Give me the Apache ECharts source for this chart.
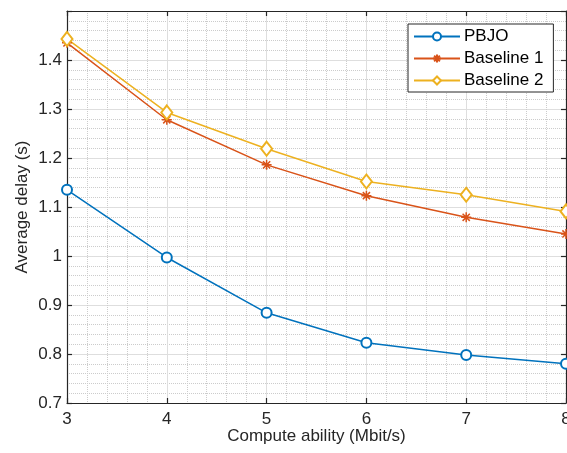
<!DOCTYPE html>
<html>
<head>
<meta charset="utf-8">
<script src="https://cdn.jsdelivr.net/npm/echarts@6/dist/echarts.min.js"></script>
<style>
  html, body { margin: 0; padding: 0; background: #fff; }
  #chart { width: 567px; height: 453px; }
</style>
</head>
<body>
<div id="chart"></div>
<script>
// data
var xValues = [3, 4, 5, 6, 7, 8];
var pbjo = [1.135, 0.997, 0.884, 0.823, 0.798, 0.780];
var baseline1 = [1.435, 1.278, 1.186, 1.123, 1.079, 1.045];
var baseline2 = [1.443, 1.293, 1.219, 1.152, 1.125, 1.091];
var seriesNames = ['PBJO', 'Baseline 1', 'Baseline 2'];

function pairs(ys) {
  return xValues.map(function (x, i) { return [x, ys[i]]; });
}

var font = 'Liberation Sans, Arial, Helvetica, sans-serif';
var axisColor = '#262626';
// asterisk marker like matlab '*'
var star = 'path://M0,-5L0,5M-5,0L5,0M-3.6,-3.6L3.6,3.6M-3.6,3.6L3.6,-3.6';

var chart = echarts.init(document.getElementById('chart'));

var commonAxis = {
  axisLine: { show: true, lineStyle: { color: axisColor, width: 1.2 } },
  axisTick: { show: true, inside: true, length: 5, lineStyle: { color: axisColor, width: 1.2 } },
  minorTick: { show: true, splitNumber: 5, length: 0 }
};

chart.setOption({
  animation: false,
  backgroundColor: '#fff',
  grid: { left: 67, right: 1, top: 11, bottom: 50, containLabel: false, outerBoundsMode: 'none' },
  legend: {
    data: seriesNames,
    orient: 'vertical',
    left: 408, top: 24,
    padding: [4, 10, 3, 5],
    itemWidth: 46, itemHeight: 10, itemGap: 5,
    backgroundColor: '#fff',
    borderColor: '#262626', borderWidth: 1,
    textStyle: { fontFamily: font, fontSize: 17, color: '#000', padding: [0, 0, 0, -1] }
  },
  xAxis: [
    Object.assign({}, commonAxis, {
      type: 'value', min: 3, max: 8, interval: 1,
      name: 'Compute ability (Mbit/s)',
      nameLocation: 'middle', nameGap: 25, nameMoveOverlap: false,
      nameTextStyle: { fontFamily: font, fontSize: 17, color: axisColor },
      axisLabel: { margin: 8, fontFamily: font, fontSize: 17, color: axisColor },
      splitLine: { show: true, lineStyle: { color: '#dedede', width: 1 } },
      minorSplitLine: { show: true, lineStyle: { color: '#cccccc', type: [1, 1], width: 1 } }
    }),
    Object.assign({}, commonAxis, {
      type: 'value', min: 3, max: 8, interval: 1, position: 'top',
      axisLabel: { show: false }, splitLine: { show: false },
      minorTick: { show: false }
    })
  ],
  yAxis: [
    Object.assign({}, commonAxis, {
      type: 'value', min: 0.7, max: 1.5, interval: 0.1,
      name: 'Average delay (s)',
      nameLocation: 'middle', nameGap: 36, nameMoveOverlap: false,
      nameTextStyle: { fontFamily: font, fontSize: 17, color: axisColor },
      axisLabel: {
        margin: 5, fontFamily: font, fontSize: 17, color: axisColor,
        formatter: function (v) {
          if (v > 1.45) return '';
          return String(+v.toFixed(1));
        }
      },
      splitLine: { show: true, lineStyle: { color: '#dedede', width: 1 } },
      minorSplitLine: { show: true, lineStyle: { color: '#cccccc', type: [1, 1], width: 1 } }
    }),
    Object.assign({}, commonAxis, {
      type: 'value', min: 0.7, max: 1.5, interval: 0.1, position: 'right',
      axisLabel: { show: false }, splitLine: { show: false },
      minorTick: { show: false }
    })
  ],
  series: [
    {
      name: seriesNames[0], type: 'line', data: pairs(pbjo),
      symbol: 'emptyCircle', symbolSize: 10,
      lineStyle: { color: '#0072BD', width: 1.5 },
      itemStyle: { color: '#0072BD', borderWidth: 1.3 }
    },
    {
      name: seriesNames[1], type: 'line', data: pairs(baseline1),
      symbol: star, symbolSize: 10,
      lineStyle: { color: '#D95319', width: 1.5 },
      itemStyle: { color: '#D95319', borderColor: '#D95319', borderWidth: 1.5 }
    },
    {
      name: seriesNames[2], type: 'line', data: pairs(baseline2),
      symbol: 'emptyDiamond', symbolSize: [11, 14],
      lineStyle: { color: '#EDB120', width: 1.5 },
      itemStyle: { color: '#EDB120', borderWidth: 1.3 }
    }
  ]
});
</script>
</body>
</html>
